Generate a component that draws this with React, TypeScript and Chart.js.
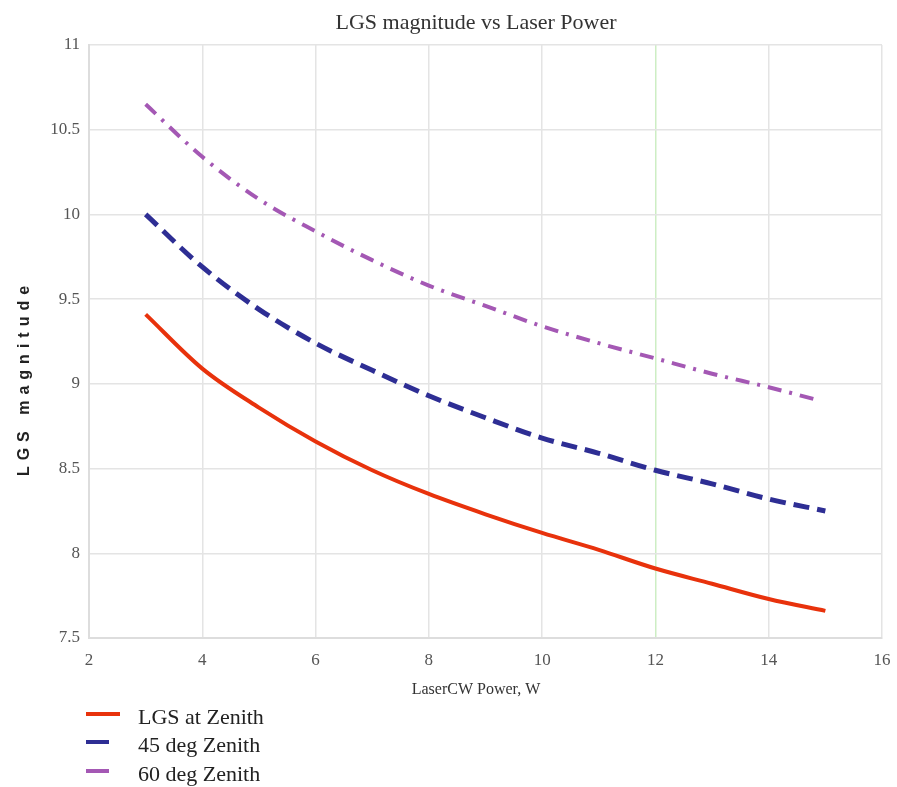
import React, { useEffect, useRef } from "react";
import { Chart, registerables } from "chart.js";

Chart.register(...registerables);

const power = [3, 4, 5, 6, 7, 8, 9, 10, 11, 12, 13, 14, 15];
const zenith = [9.41, 9.09, 8.86, 8.66, 8.49, 8.35, 8.23, 8.12, 8.02, 7.91, 7.82, 7.73, 7.66];
const deg45 = [10.0, 9.69, 9.44, 9.24, 9.08, 8.93, 8.8, 8.68, 8.59, 8.49, 8.41, 8.32, 8.25];
const power60 = [3, 4, 5, 6, 7, 8, 9, 10, 11, 12, 13, 14, 14.8];
const deg60 = [10.65, 10.34, 10.09, 9.9, 9.73, 9.58, 9.46, 9.34, 9.24, 9.15, 9.06, 8.98, 8.91];
const xTicks = [2, 4, 6, 8, 10, 12, 14, 16];
const yTicks = [7.5, 8, 8.5, 9, 9.5, 10, 10.5, 11];

const labels = ["LGS at Zenith", "45 deg Zenith", "60 deg Zenith"];
const colors = ["#e8320c", "#2e2e94", "#a458b4"];
const chartTitle = "LGS magnitude vs Laser Power";
const xTitle = "LaserCW Power, W";
const yTitle = "LGS magnitude";

const SERIF = "'Liberation Serif', 'Times New Roman', serif";

const extras = {
  id: "extras",
  afterDraw(chart: any) {
    const ctx = chart.ctx;
    // main title
    ctx.save();
    ctx.fillStyle = "#333";
    ctx.font = `22px ${SERIF}`;
    ctx.textAlign = "center";
    ctx.textBaseline = "middle";
    ctx.fillText(chartTitle, 476, 23);
    // x title
    ctx.font = `16px ${SERIF}`;
    ctx.fillText(xTitle, 476, 690);
    ctx.restore();

    // y axis title with letter spacing
    ctx.save();
    ctx.translate(25, 381);
    ctx.rotate(-Math.PI / 2);
    ctx.font = "bold 16px 'Liberation Sans', Arial, sans-serif";
    (ctx as any).letterSpacing = "6px";
    ctx.fillStyle = "#222";
    ctx.textAlign = "center";
    ctx.textBaseline = "middle";
    ctx.fillText(yTitle, 3, 0);
    ctx.restore();

    // legend
    ctx.save();
    const ys = [714, 742, 771];
    const lens = [34, 23, 23];
    chart.data.datasets.forEach((ds: any, i: number) => {
      ctx.strokeStyle = ds.borderColor;
      ctx.lineWidth = 4;
      ctx.beginPath();
      ctx.moveTo(86, ys[i]);
      ctx.lineTo(86 + lens[i], ys[i]);
      ctx.stroke();
      ctx.fillStyle = "#222";
      ctx.font = `22px ${SERIF}`;
      ctx.textAlign = "left";
      ctx.textBaseline = "middle";
      ctx.fillText(ds.label, 138, ys[i] + 4);
    });
    ctx.restore();
  },
};

export default function App() {
  const ref = useRef<HTMLCanvasElement>(null);
  useEffect(() => {
    document.body.style.margin = "0";
    const chart = new Chart(ref.current!, {
      type: "line",
      data: {
        datasets: [
          {
            label: labels[0],
            data: power.map((x, i) => ({ x, y: zenith[i] })),
            borderColor: colors[0],
            borderWidth: 4,
            pointRadius: 0,
            cubicInterpolationMode: "monotone",
          },
          {
            label: labels[1],
            data: power.map((x, i) => ({ x, y: deg45[i] })),
            borderColor: colors[1],
            borderWidth: 5,
            borderDash: [16, 8],
            pointRadius: 0,
            cubicInterpolationMode: "monotone",
          },
          {
            label: labels[2],
            data: power60.map((x, i) => ({ x, y: deg60[i] })),
            borderColor: colors[2],
            borderWidth: 4,
            borderDash: [14, 8, 3, 8],
            pointRadius: 0,
            cubicInterpolationMode: "monotone",
          },
        ],
      },
      options: {
        animation: false,
        responsive: false,
        layout: { padding: { left: 0, right: 0, top: 45, bottom: 0 } },
        plugins: {
          legend: { display: false },
          tooltip: { enabled: false },
          title: { display: false },
        },
        scales: {
          x: {
            type: "linear",
            min: 2,
            max: 16,
            afterBuildTicks: (s: any) => {
              s.ticks = xTicks.map((v) => ({ value: v }));
            },
            afterFit: (s: any) => {
              s.height = 149;
              s.paddingRight = 15;
            },
            grid: {
              color: (c: any) => (c.tick && c.tick.value === 12 ? "#cdeec4" : "#e4e4e4"),
              lineWidth: 1.5,
              drawTicks: false,
            },
            border: { color: "#dddddd", width: 2 },
            ticks: {
              color: "#555",
              padding: 12,
              font: { family: SERIF, size: 17 },
            },
          },
          y: {
            type: "linear",
            min: 7.5,
            max: 11,
            afterBuildTicks: (s: any) => {
              s.ticks = yTicks.map((v) => ({ value: v }));
            },
            afterFit: (s: any) => {
              s.width = 89;
            },
            grid: {
              color: "#e4e4e4",
              lineWidth: 1.5,
              drawTicks: false,
            },
            border: { color: "#dddddd", width: 2 },
            ticks: {
              color: "#555",
              padding: 9,
              font: { family: SERIF, size: 17 },
              callback: (v: any) => String(v),
            },
          },
        },
      },
      plugins: [extras],
    } as any);
    return () => chart.destroy();
  }, []);
  return (
    <div style={{ position: "absolute", left: 0, top: 0, width: 897, height: 787 }}>
      <canvas ref={ref} width={897} height={787} style={{ width: 897, height: 787 }} />
    </div>
  );
}
